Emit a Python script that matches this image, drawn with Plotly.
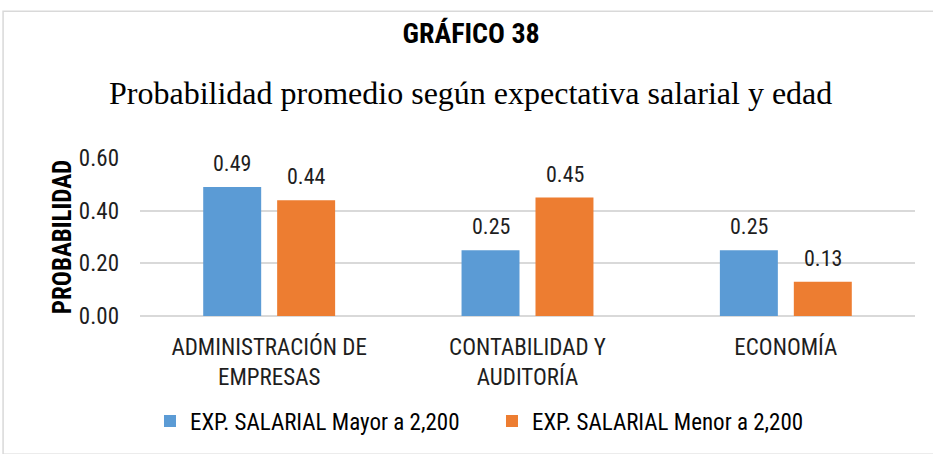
import plotly.graph_objects as go

# Data
categories = ["ADMINISTRACIÓN DE<br>EMPRESAS", "CONTABILIDAD Y<br>AUDITORÍA", "ECONOMÍA"]
mayor = [0.49, 0.25, 0.25]
menor = [0.44, 0.45, 0.13]
series_names = ["EXP. SALARIAL Mayor a 2,200", "EXP. SALARIAL Menor a 2,200"]
colors = ["#5B9BD5", "#ED7D31"]

NARROW = "Liberation Sans Narrow, Arial Narrow, Roboto Condensed, DejaVu Sans Condensed, sans-serif"
TXT = "#1e1e1e"

fig = go.Figure()
for name, vals, col in zip(series_names, [mayor, menor], colors):
    fig.add_trace(go.Bar(x=categories, y=vals, name=name, marker=dict(color=col, line=dict(width=0))))

# Value labels above each bar
for i, vals in enumerate([mayor, menor]):
    shift = -37 if i == 0 else 37
    for c, v in zip(categories, vals):
        fig.add_annotation(x=c, y=v, text=f"{v:.2f}", showarrow=False, xshift=shift,
                           yanchor="bottom", yshift=9,
                           font=dict(family=NARROW, size=22, color=TXT))

# Subtitle
fig.add_annotation(xref="paper", yref="paper", x=0.427, y=(319 - 92) / 161,
                   text="Probabilidad promedio según expectativa salarial y edad",
                   showarrow=False, xanchor="center", yanchor="middle",
                   font=dict(family="Liberation Serif, Times New Roman, serif", size=32, color="#000000"))

# Outer chart frame
fig.add_shape(type="rect", xref="paper", yref="paper",
              x0=(3 - 140) / 775.5, x1=(940 - 140) / 775.5,
              y0=(319 - 460) / 161, y1=(319 - 8.5) / 161,
              line=dict(color="#d9d9d9", width=1.5), fillcolor="rgba(0,0,0,0)", layer="below")

fig.update_layout(
    width=933, height=454,
    margin=dict(l=140, r=18, t=158, b=135),
    paper_bgcolor="white", plot_bgcolor="white",
    barmode="group", bargap=0.4275, bargroupgap=0.216,
    title=dict(text="<b>GRÁFICO 38</b>", x=0.505, xanchor="center", y=1 - 33 / 454, yanchor="middle",
               font=dict(family=NARROW, size=28, color="#000000")),
    xaxis=dict(tickfont=dict(family=NARROW, size=23, color=TXT), showgrid=False, automargin=False,
               showline=False, ticks="", ticklabelstandoff=15),
    yaxis=dict(range=[0, 0.6], dtick=0.2, tickformat=".2f", showgrid=True, gridcolor="#d9d9d9", gridwidth=1.5,
               zeroline=True, zerolinecolor="#d9d9d9", zerolinewidth=1.5, automargin=False,
               tickfont=dict(family=NARROW, size=23, color=TXT), ticklabelstandoff=20,
               title=dict(text="<b>PROBABILIDAD</b>", standoff=0,
                          font=dict(family=NARROW, size=25, color="#000000"))),
    legend=dict(orientation="h", x=(150 - 140) / 775.5, xanchor="left", y=(319 - 426) / 161, yanchor="middle",
                font=dict(family=NARROW, size=23, color="#000000"), itemwidth=30, traceorder="normal",
                entrywidth=297, entrywidthmode="pixels"),
    showlegend=True,
)

fig.write_html("out.html")
